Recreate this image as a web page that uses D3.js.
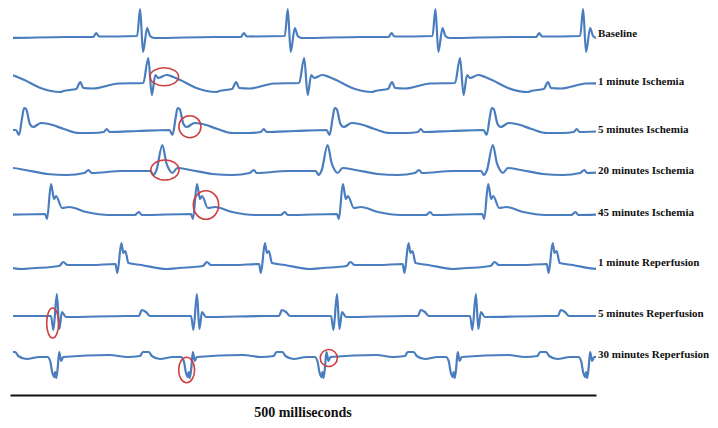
<!DOCTYPE html>
<html lang="en">
<head>
    <meta charset="UTF-8">
    <title>ECG traces</title>
    <script src="https://d3js.org/d3.v7.min.js"></script>
    <style>
        body { margin: 0; background: #fff; }
        .trace { fill: none; stroke: #4a7dbe; stroke-width: 2.2; stroke-linejoin: round; }
        .mark { fill: none; stroke: #cc4040; stroke-width: 1.6; }
        .label { font-family: "Liberation Serif", "Times New Roman", serif; font-weight: bold; font-size: 11px; fill: #111; }
        .scale-label { font-family: "Liberation Serif", "Times New Roman", serif; font-weight: bold; font-size: 14px; fill: #111; }
    </style>
</head>
<body>
<div id="chart"></div>
<script>
    // trace names and vertical offsets (mV) used to stack them
    const traceNames = ["Baseline", "1 minute Ischemia", "5 minutes Ischemia", "20 minutes Ischemia",
        "45 minutes Ischemia", "1 minute Reperfusion", "5 minutes Reperfusion", "30 minutes Reperfusion"];
    const traceOffsets = [0, -5.1, -9.4, -13.4, -17.8, -22.8, -27.9, -31.9];

    // R-wave times (ms) of each trace
    const baselineBeats = [-15, 111, 237, 363, 489, 615];
    const isch1Beats = [-15, 118, 251, 384, 517];
    const isch5Beats = [12, 143, 277, 411, 544];
    const isch20Beats = [-11, 130, 271, 412, 553];
    const isch45Beats = [35, 159.5, 284, 408, 532];
    const rep1Beats = [-28, 95, 217.5, 340, 463, 586];
    const rep5Beats = [40, 159.5, 279, 397.5, 517];
    const rep30Beats = [-72, 42, 156, 270, 382, 495];

    // one beat of each trace: [ms from R wave, mV]
    const baselineWave = [[-63, 0], [-40, 0], [-37.5, 0.4], [-35, 0.05], [-2.5, 0.1], [0, 2.8], [2.5, -1.5],
        [6, 0.9], [8.5, 0.1], [12, -0.1], [63, 0]];
    const isch1Wave = [[-72.5, -0.3], [-61.5, -0.1], [-58, 0.6], [-55.5, 0], [-47, -0.05], [-25.5, 0.45],
        [-4.3, 0.5], [0, 3.0], [3, -0.7], [6, 1.3], [8.5, 1.0], [15.4, 1.3], [21.3, 1.1], [27.3, 0.8],
        [41, 0], [58, -0.4]];
    const isch5Wave = [[-72.5, -0.2], [-63, -0.1], [-60.5, 0.2], [-58, -0.1], [-34, 0], [-7, 0.1],
        [-4.3, -0.4], [-1.7, 1.3], [0, 2.3], [1.7, 2.2], [5, 0.7], [7.7, 0.4], [14.5, 0.8], [21.3, 0.7],
        [34, 0.2], [47, -0.2], [60, -0.2]];
    const isch20Wave = [[-81, -0.4], [-66.5, -0.2], [-63, 0.1], [-60.5, -0.2], [-34, 0], [-10, 0],
        [-7.7, -0.4], [-5, 0.1], [0, 2.6], [3.4, 0.8], [6, 0.1], [8.5, -0.2], [12.8, 0.3], [24, 0.1],
        [42.7, -0.3], [59.7, -0.4]];
    const isch45Wave = [[-75, 0], [-53, 0], [-49.5, 0.3], [-47, 0], [-5, 0.1], [-3.4, -0.4], [0, 3.1],
        [2.6, 1.6], [4.3, 1.9], [9.4, 0.7], [15.4, 0.8], [30, 0.3], [49.5, 0]];
    const rep1Wave = [[-73.4, -0.3], [-53, -0.1], [-49.5, 0.3], [-46, 0], [-25.6, 0], [-5, 0.1],
        [-3.4, -0.8], [0, 2.2], [1.7, 1.2], [3.4, 1.4], [6, 0.2], [17, 0], [38.4, -0.4], [49.5, -0.3]];
    const rep5Wave = [[-60, 0], [-49.5, 0], [-47, 0.6], [-43.5, 0.4], [-40, 0], [-5, 0], [-3, -1.4],
        [0, 2.2], [2.1, -1.3], [4.3, 0.4], [7.7, -0.1], [60, -0.1]];
    const rep30Wave = [[-55.5, -0.1], [-45, 0], [-42.7, 0.4], [-37.5, 0.4], [-35, 0], [-28, -0.3],
        [-17, -0.1], [-10, -0.1], [-7.7, -0.5], [-6, -1.6], [-4.3, -2.1], [-3.4, -1.6], [-2.6, -2.2],
        [-1.3, -1.2], [0, 0.4], [1.7, -0.5], [3.4, -0.1], [42.7, 0.1]];

    // red ellipses: [trace index, ms, mV, half-width ms, half-height mV]
    const highlights = [[1, 131.6, 1.13, 12.2, 0.9], [2, 153.5, 0.43, 9.4, 1.1], [3, 132.2, 0.1, 12, 1.0],
        [4, 167.2, 1.0, 10.8, 1.43], [6, 36.4, -0.7, 5.1, 1.5], [7, 150.7, -1.4, 6.8, 1.27],
        [7, 272, -0.2, 7.3, 0.85]];

    const scaleBarMs = 500;

    const width = 718, height = 428;

    const x = d3.scaleLinear().domain([0, scaleBarMs]).range([10, 596]);
    const y = d3.scaleLinear().domain([0, -35.8]).range([37, 395]);

    const beatsList = [baselineBeats, isch1Beats, isch5Beats, isch20Beats, isch45Beats, rep1Beats, rep5Beats, rep30Beats];
    const waveList = [baselineWave, isch1Wave, isch5Wave, isch20Wave, isch45Wave, rep1Wave, rep5Wave, rep30Wave];

    // put one beat shape at every R time, each beat runs until the next one starts
    function buildTrace(beats, wave) {
        const start = wave[0][0];
        const pts = [];
        beats.forEach((t, i) => {
            const limit = i < beats.length - 1 ? beats[i + 1] + start : Infinity;
            wave.forEach(([dx, v]) => {
                if (t + dx < limit) pts.push([t + dx, v]);
            });
        });
        return pts;
    }

    const traces = traceNames.map((name, i) => {
        const points = buildTrace(beatsList[i], waveList[i]);
        const inside = points.filter(p => p[0] <= scaleBarMs);
        return {
            name: name,
            offset: traceOffsets[i],
            points: points,
            endValue: inside[inside.length - 1][1]
        };
    });

    const svg = d3.select('#chart').append('svg')
        .attr('width', width)
        .attr('height', height);

    svg.append('clipPath').attr('id', 'clip')
        .append('rect')
        .attr('x', x(2.5))
        .attr('y', 0)
        .attr('width', x(scaleBarMs) - x(2.5))
        .attr('height', height);

    const line = d3.line().curve(d3.curveMonotoneX);

    svg.append('g').attr('clip-path', 'url(#clip)')
        .selectAll('path')
        .data(traces)
        .join('path')
        .attr('class', 'trace')
        .attr('d', d => line(d.points.map(p => [x(p[0]), y(p[1] + d.offset)])));

    // labels sit at the end of each trace
    svg.append('g')
        .selectAll('text')
        .data(traces)
        .join('text')
        .attr('class', 'label')
        .attr('x', x(scaleBarMs) + 2)
        .attr('y', d => y(d.endValue + d.offset) + 1)
        .text(d => d.name);

    svg.append('g')
        .selectAll('ellipse')
        .data(highlights)
        .join('ellipse')
        .attr('class', 'mark')
        .attr('cx', d => x(d[1]))
        .attr('cy', d => y(d[2] + traceOffsets[d[0]]))
        .attr('rx', d => x(d[3]) - x(0))
        .attr('ry', d => y(0) - y(d[4]));

    // 500 ms scale bar
    const bar = svg.append('g')
        .attr('transform', `translate(0,${y(-35.8)})`)
        .call(d3.axisBottom(x).tickValues([]).tickSizeOuter(0));
    bar.select('.domain').attr('stroke', '#111').attr('stroke-width', 2.2);

    svg.append('text')
        .attr('class', 'scale-label')
        .attr('x', x(scaleBarMs / 2))
        .attr('y', 417)
        .attr('text-anchor', 'middle')
        .text(scaleBarMs + ' milliseconds');
</script>
</body>
</html>
